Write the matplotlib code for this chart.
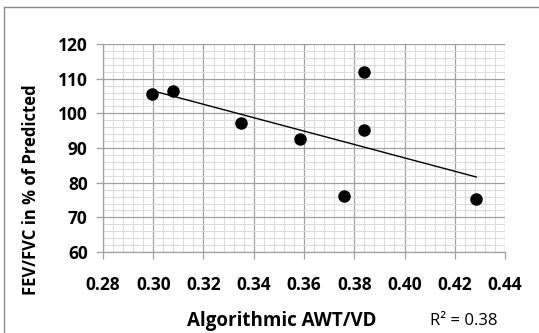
import numpy as np
import matplotlib
matplotlib.use("Agg")
import matplotlib.pyplot as plt
from matplotlib.lines import Line2D
from matplotlib.ticker import MultipleLocator

awt_vd = [0.2995, 0.3079, 0.3350, 0.3584, 0.3759, 0.3839, 0.3839, 0.4285]
fev_fvc = [105.6, 106.4, 97.2, 92.6, 76.2, 111.9, 95.2, 75.3]
x_ticks = [0.28, 0.30, 0.32, 0.34, 0.36, 0.38, 0.40, 0.42, 0.44]
y_ticks = [60, 70, 80, 90, 100, 110, 120]
r2_label = "R² = 0.38"

plt.rcParams["font.family"] = ["Open Sans", "DejaVu Sans"]

fig = plt.figure(figsize=(5.39, 3.33), dpi=100)
ax = fig.add_axes([0.191, 0.243, 0.746, 0.625])

ax.set_xlim(0.28, 0.44)
ax.set_ylim(60, 120)
ax.set_xticks(x_ticks)
ax.set_yticks(y_ticks)
ax.set_xticklabels([f"{t:.2f}" for t in x_ticks])
ax.xaxis.set_minor_locator(MultipleLocator(0.004))
ax.yaxis.set_minor_locator(MultipleLocator(2))

ax.grid(True, which="minor", color="#dcdcdc", linewidth=0.8)
ax.grid(True, which="major", color="#a0a0a0", linewidth=0.9)
ax.set_axisbelow(True)

for s in ("top", "right"):
    ax.spines[s].set_visible(False)
for s in ("left", "bottom"):
    ax.spines[s].set_color("#a0a0a0")
    ax.spines[s].set_linewidth(0.9)

ax.tick_params(axis="both", which="major", length=5, width=0.9, color="#a0a0a0",
               labelsize=12.5, pad=6)
ax.tick_params(axis="both", which="minor", length=0)
ax.tick_params(axis="x", pad=12)
for lab in ax.get_xticklabels() + ax.get_yticklabels():
    lab.set_fontweight("bold")

ax.plot(awt_vd, fev_fvc, "o", color="black", markersize=8, zorder=3, clip_on=False)

coef = np.polyfit(awt_vd, fev_fvc, 1)
xs = np.array([min(awt_vd), max(awt_vd)])
ax.plot(xs, np.polyval(coef, xs), color="black", linewidth=1.0, zorder=2)

fig.text(0.058, 0.43, "FEV/FVC in % of Predicted", fontsize=12, fontweight="bold",
         rotation=90, ha="center", va="center")
fig.text(0.523, 0.035, "Algorithmic AWT/VD", fontsize=13.5, fontweight="bold",
         ha="center", va="center")
fig.text(0.861, 0.035, r2_label, fontsize=12, ha="center", va="center")

# chart border (partly cropped like the source)
fig.add_artist(Line2D([0.0075, 1.0], [0.978, 0.978], transform=fig.transFigure,
                      color="#8a8a8a", linewidth=1.0))
fig.add_artist(Line2D([0.0075, 0.0075], [0.0, 0.978], transform=fig.transFigure,
                      color="#8a8a8a", linewidth=1.0))

fig.savefig("out.png", dpi=100, facecolor="white")
